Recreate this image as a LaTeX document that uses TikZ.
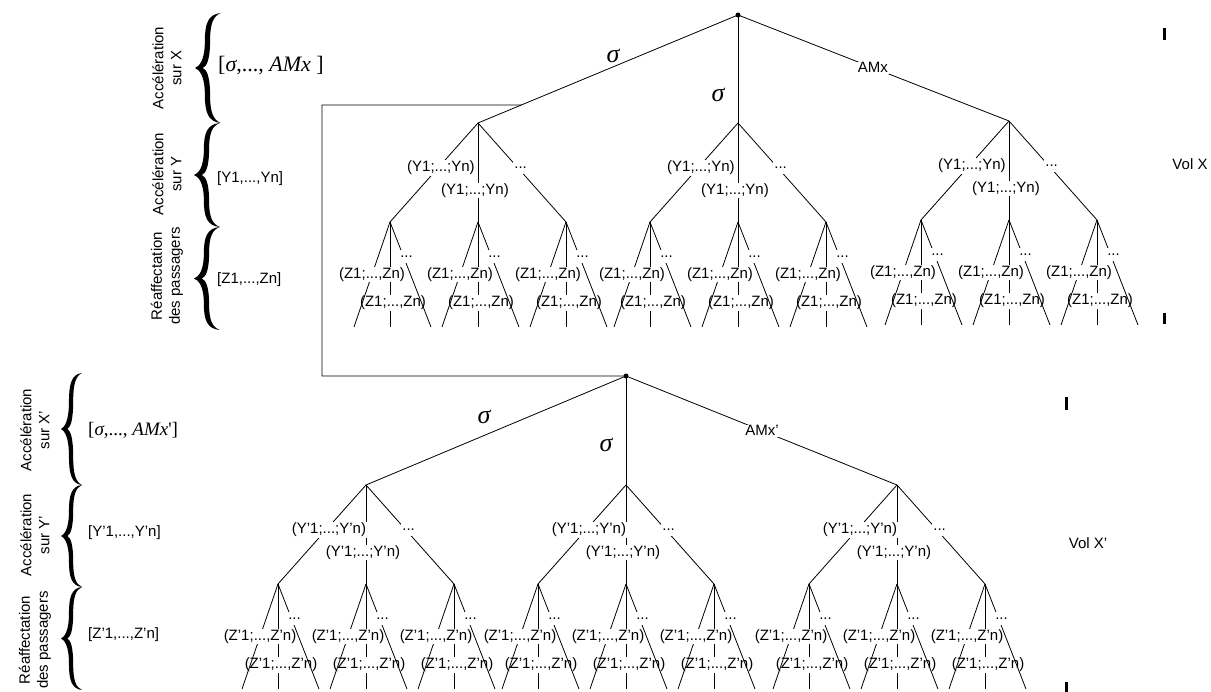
\documentclass[tikz,border=0pt]{standalone}
\usepackage{fontspec}
\setmainfont{Liberation Sans}
\newfontfamily\tms{Liberation Serif}
\usetikzlibrary{calc}
\tikzset{
 edge/.style={line width=0.8pt},
 lab/.style={fill=white, inner sep=0.8pt, font=\fontsize{15}{17}\selectfont},
 dotlab/.style={fill=white, inner sep=1pt, minimum height=13pt, minimum width=14pt, font=\fontsize{15}{17}\selectfont},
 sig/.style={font=\tms\itshape\fontsize{26}{28}\selectfont, inner sep=0pt},
 side/.style={rotate=90, align=center, font=\fontsize{15}{18}\selectfont, inner sep=0pt},
 brk/.style={anchor=west, inner sep=0pt, font=\fontsize{15}{17}\selectfont},
 volx/.style={inner sep=0pt, font=\fontsize{15}{17}\selectfont},
 bracepic/.pic={\fill (1,-1) .. controls (0.5,-0.98) and (0.38,-0.8) .. (0.38,-0.5) .. controls (0.38,-0.12) and (0.15,-0.03) .. (0,0) .. controls (0.15,0.03) and (0.38,0.12) .. (0.38,0.5) .. controls (0.38,0.8) and (0.5,0.98) .. (1,1) .. controls (0.7,0.95) and (0.58,0.8) .. (0.58,0.5) .. controls (0.58,0.15) and (0.45,0.03) .. (0.3,0) .. controls (0.45,-0.03) and (0.58,-0.15) .. (0.58,-0.5) .. controls (0.58,-0.8) and (0.7,-0.95) .. (1,-1) -- cycle;}
}
\newcommand\Zsub[2]{%
 \path (#1) ++(-36,105) coordinate (#1l) (#1) ++(0,105) coordinate (#1m) (#1) ++(41,105) coordinate (#1r);
 \draw[edge] (#1) -- node[lab,pos=0.77,xshift=3pt]{#2} (#1m);
 \draw[edge] (#1) -- node[lab,pos=0.5]{#2} (#1l);
 \draw[edge] (#1) -- node[dotlab,pos=0.33,xshift=3pt]{...} (#1r);
}
\newcommand\Ysub[3]{%
 \path (#1) ++(-88,99) coordinate (#1a) (#1) ++(0,99) coordinate (#1b) (#1) ++(88,99) coordinate (#1c);
 \draw[edge] (#1) -- node[lab,pos=0.68,xshift=-3pt]{#2} (#1b);
 \draw[edge] (#1) -- node[lab,pos=0.455,xshift=3pt]{#2} (#1a);
 \draw[edge] (#1) -- node[dotlab,pos=0.45,xshift=3pt]{...} (#1c);
 \Zsub{#1a}{#3}\Zsub{#1b}{#3}\Zsub{#1c}{#3}%
}
\begin{document}
\begin{tikzpicture}[x=1pt,y=-1pt]
\useasboundingbox (0,0) rectangle (1211,692);
% ---------- top tree
\coordinate (T) at (738,15);
\coordinate (Ta) at (478,123);
\coordinate (Tb) at (738,123);
\coordinate (Tc) at (1009,121);
\draw[edge] (T) -- (Ta);
\draw[edge] (T) -- (Tb);
\draw[edge] (T) -- node[lab,pos=0.498]{AMx} (Tc);
\fill (T) circle (2.5);
\node[sig] (sT1) at (613,56) {σ};
\node[sig] (sT2) at (718,95) {σ};
\Ysub{Ta}{(Y1;...;Yn)}{(Z1;...,Zn)}
\Ysub{Tb}{(Y1;...;Yn)}{(Z1;...,Zn)}
\Ysub{Tc}{(Y1;...;Yn)}{(Z1;...,Zn)}
% ---------- bottom tree
\coordinate (B) at (626,376);
\coordinate (Ba) at (366,485);
\coordinate (Bb) at (626,485);
\coordinate (Bc) at (897,485);
\draw[edge] (B) -- (Ba);
\draw[edge] (B) -- (Bb);
\draw[edge] (B) -- node[lab,pos=0.502]{AMx’} (Bc);
\node[sig] (sB1) at (484,417) {σ};
\node[sig] (sB2) at (606,445) {σ};
\Ysub{Ba}{(Y’1;...;Y’n)}{(Z’1;...,Z’n)}
\Ysub{Bb}{(Y’1;...;Y’n)}{(Z’1;...,Z’n)}
\Ysub{Bc}{(Y’1;...;Y’n)}{(Z’1;...,Z’n)}
% ---------- connector
\coordinate (J) at ($(T)!0.8333!(Ta)$);
\coordinate (K) at (322,105);
\draw[edge] (J) -- (K) |- (B);
\fill (B) circle (2.5);
% ---------- ticks and flight labels
\fill (1163,28) rectangle (1166,40);
\fill (1163,313) rectangle (1166,324);
\fill (1065,397) rectangle (1068,410);
\fill (1065,682) rectangle (1068,692);
\node[volx] (v1) at (1190,164) {Vol X};
\node[volx] (v2) at (1088,543) {Vol X’};
% ---------- left legend, top
\pic[xscale=26,yscale=55] at (195,68) {bracepic};
\pic[xscale=26,yscale=52] at (194,175) {bracepic};
\pic[xscale=26,yscale=51.5] at (194,278.5) {bracepic};
\node[side] (lt1) at (167,68) {Accélération\\sur X};
\node[side] (lt2) at (167,174) {Accélération\\sur Y};
\node[side] (lt3) at (167,276) {Réaffectation\\des passagers};
\node[anchor=west, inner sep=0pt, font=\tms\fontsize{22}{24}\selectfont] (bt1) at (218,66) {[\textit{σ},..., \textit{AMx} ]};
\node[brk] (bt2) at (217,179) {[Y1,...,Yn]};
\node[brk] (bt3) at (217,280) {[Z1,...,Zn]};
% ---------- left legend, bottom
\pic[xscale=21,yscale=56] at (61,429) {bracepic};
\pic[xscale=21,yscale=51] at (61,536) {bracepic};
\pic[xscale=21,yscale=51.5] at (61,638.5) {bracepic};
\node[side] (lb1) at (35,430) {Accélération\\sur X’};
\node[side] (lb2) at (35,535) {Accélération\\sur Y’};
\node[side] (lb3) at (35,640) {Réaffectation\\des passagers};
\node[anchor=west, inner sep=0pt, font=\tms\fontsize{19}{21}\selectfont] (bb1) at (88,430) {[\textit{σ},..., \textit{AMx}']};
\node[brk] (bb2) at (88,533) {[Y’1,...,Y’n]};
\node[brk] (bb3) at (88,635) {[Z’1,...,Z’n]};
\end{tikzpicture}
\end{document}
